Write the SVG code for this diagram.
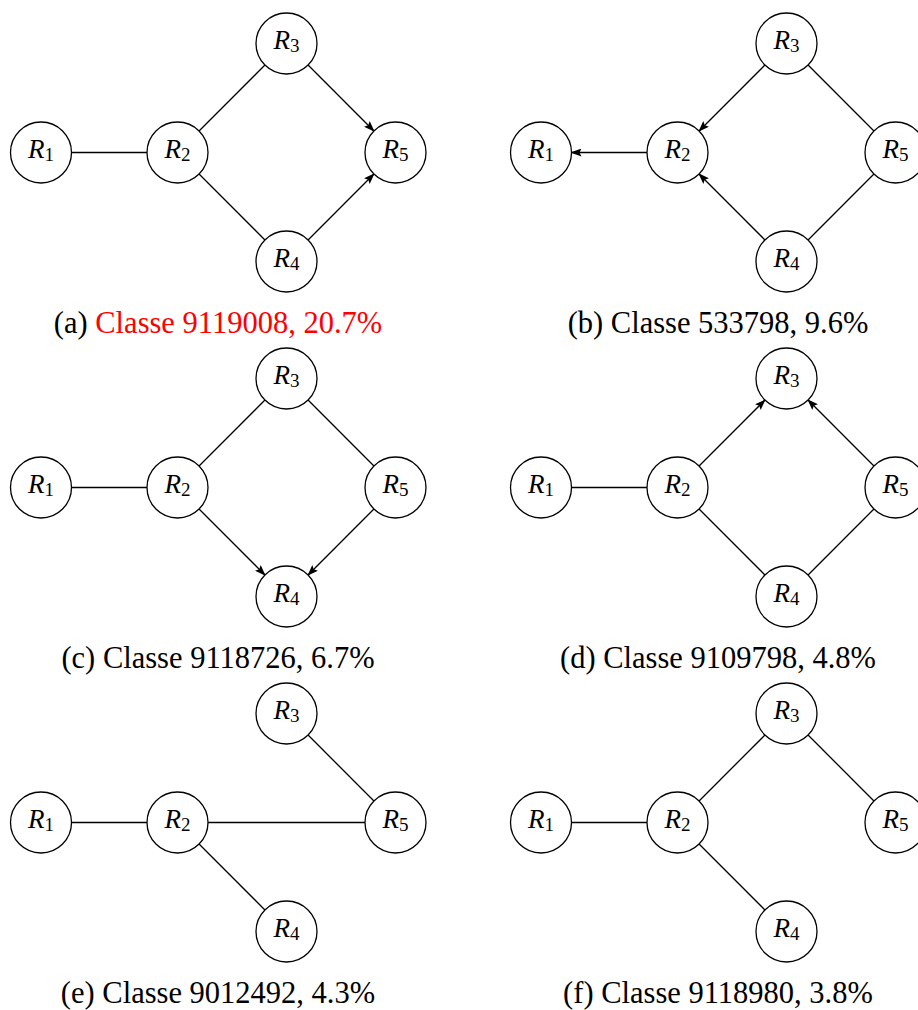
<svg xmlns="http://www.w3.org/2000/svg" width="918" height="1010" viewBox="0 0 918 1010" font-family="'Liberation Serif', 'Times New Roman', serif">
<style>
.n{fill:#fff;stroke:#000;stroke-width:1.3}
.e{stroke:#000;stroke-width:1.3;fill:none}
.a{marker-end:url(#ah)}
.lb{font-size:27px;text-anchor:middle;fill:#000}
.lb .r{font-style:italic}
.lb .s{font-size:19px}
.cap{font-size:30.5px;text-anchor:middle;fill:#000}
.red{fill:#ff0000}
</style>
<defs>
<marker id="ah" markerUnits="userSpaceOnUse" viewBox="0 0 11 8" refX="10" refY="4" markerWidth="11" markerHeight="8" orient="auto">
<path d="M0,0 L11,4 L0,8 L2,4 Z" fill="#000"/>
</marker>
<g id="nodes">
<g id="R1"><circle class="n" cx="41" cy="152.5" r="30.5"/><text class="lb" x="41" y="158"><tspan class="r">R</tspan><tspan class="s" dy="3">1</tspan></text></g>
<g id="R2"><circle class="n" cx="177.5" cy="152.5" r="30.5"/><text class="lb" x="177.5" y="158"><tspan class="r">R</tspan><tspan class="s" dy="3">2</tspan></text></g>
<g id="R3"><circle class="n" cx="286.5" cy="43.5" r="30.5"/><text class="lb" x="286.5" y="49"><tspan class="r">R</tspan><tspan class="s" dy="3">3</tspan></text></g>
<g id="R4"><circle class="n" cx="286.5" cy="261.5" r="30.5"/><text class="lb" x="286.5" y="267"><tspan class="r">R</tspan><tspan class="s" dy="3">4</tspan></text></g>
<g id="R5"><circle class="n" cx="395.5" cy="152.5" r="30.5"/><text class="lb" x="395.5" y="158"><tspan class="r">R</tspan><tspan class="s" dy="3">5</tspan></text></g>
</g>
</defs>

<g id="panel-a">
<g id="edges-a">
<line class="e" x1="71.5" y1="152.5" x2="147" y2="152.5"/>
<line class="e" x1="199.07" y1="130.93" x2="264.93" y2="65.07"/>
<line class="e" x1="199.07" y1="174.07" x2="264.93" y2="239.93"/>
<line class="e a" x1="308.07" y1="65.07" x2="373.93" y2="130.93"/>
<line class="e a" x1="308.07" y1="239.93" x2="373.93" y2="174.07"/>
</g>
<g id="a-nodes"><use href="#nodes"/></g>
<text class="cap" x="218" y="333">(a) <tspan class="red">Classe 9119008, 20.7%</tspan></text>
</g>

<g id="panel-b" transform="translate(500,0)">
<g id="edges-b">
<line class="e a" x1="147" y1="152.5" x2="71.5" y2="152.5"/>
<line class="e a" x1="264.93" y1="65.07" x2="199.07" y2="130.93"/>
<line class="e a" x1="264.93" y1="239.93" x2="199.07" y2="174.07"/>
<line class="e" x1="308.07" y1="65.07" x2="373.93" y2="130.93"/>
<line class="e" x1="308.07" y1="239.93" x2="373.93" y2="174.07"/>
</g>
<g id="b-nodes"><use href="#nodes"/></g>
<text class="cap" x="218" y="333">(b) Classe 533798, 9.6%</text>
</g>

<g id="panel-c" transform="translate(0,335)">
<g id="edges-c">
<line class="e" x1="71.5" y1="152.5" x2="147" y2="152.5"/>
<line class="e" x1="199.07" y1="130.93" x2="264.93" y2="65.07"/>
<line class="e a" x1="199.07" y1="174.07" x2="264.93" y2="239.93"/>
<line class="e" x1="308.07" y1="65.07" x2="373.93" y2="130.93"/>
<line class="e a" x1="373.93" y1="174.07" x2="308.07" y2="239.93"/>
</g>
<g id="c-nodes"><use href="#nodes"/></g>
<text class="cap" x="218" y="333">(c) Classe 9118726, 6.7%</text>
</g>

<g id="panel-d" transform="translate(500,335)">
<g id="edges-d">
<line class="e" x1="71.5" y1="152.5" x2="147" y2="152.5"/>
<line class="e a" x1="199.07" y1="130.93" x2="264.93" y2="65.07"/>
<line class="e" x1="199.07" y1="174.07" x2="264.93" y2="239.93"/>
<line class="e a" x1="373.93" y1="130.93" x2="308.07" y2="65.07"/>
<line class="e" x1="308.07" y1="239.93" x2="373.93" y2="174.07"/>
</g>
<g id="d-nodes"><use href="#nodes"/></g>
<text class="cap" x="218" y="333">(d) Classe 9109798, 4.8%</text>
</g>

<g id="panel-e" transform="translate(0,670)">
<g id="edges-e">
<line class="e" x1="71.5" y1="152.5" x2="147" y2="152.5"/>
<line class="e" x1="208" y1="152.5" x2="365" y2="152.5"/>
<line class="e" x1="199.07" y1="174.07" x2="264.93" y2="239.93"/>
<line class="e" x1="308.07" y1="65.07" x2="373.93" y2="130.93"/>
</g>
<g id="e-nodes"><use href="#nodes"/></g>
<text class="cap" x="218" y="333">(e) Classe 9012492, 4.3%</text>
</g>

<g id="panel-f" transform="translate(500,670)">
<g id="edges-f">
<line class="e" x1="71.5" y1="152.5" x2="147" y2="152.5"/>
<line class="e" x1="199.07" y1="130.93" x2="264.93" y2="65.07"/>
<line class="e" x1="308.07" y1="65.07" x2="373.93" y2="130.93"/>
<line class="e" x1="199.07" y1="174.07" x2="264.93" y2="239.93"/>
</g>
<g id="f-nodes"><use href="#nodes"/></g>
<text class="cap" x="218" y="333">(f) Classe 9118980, 3.8%</text>
</g>
</svg>
